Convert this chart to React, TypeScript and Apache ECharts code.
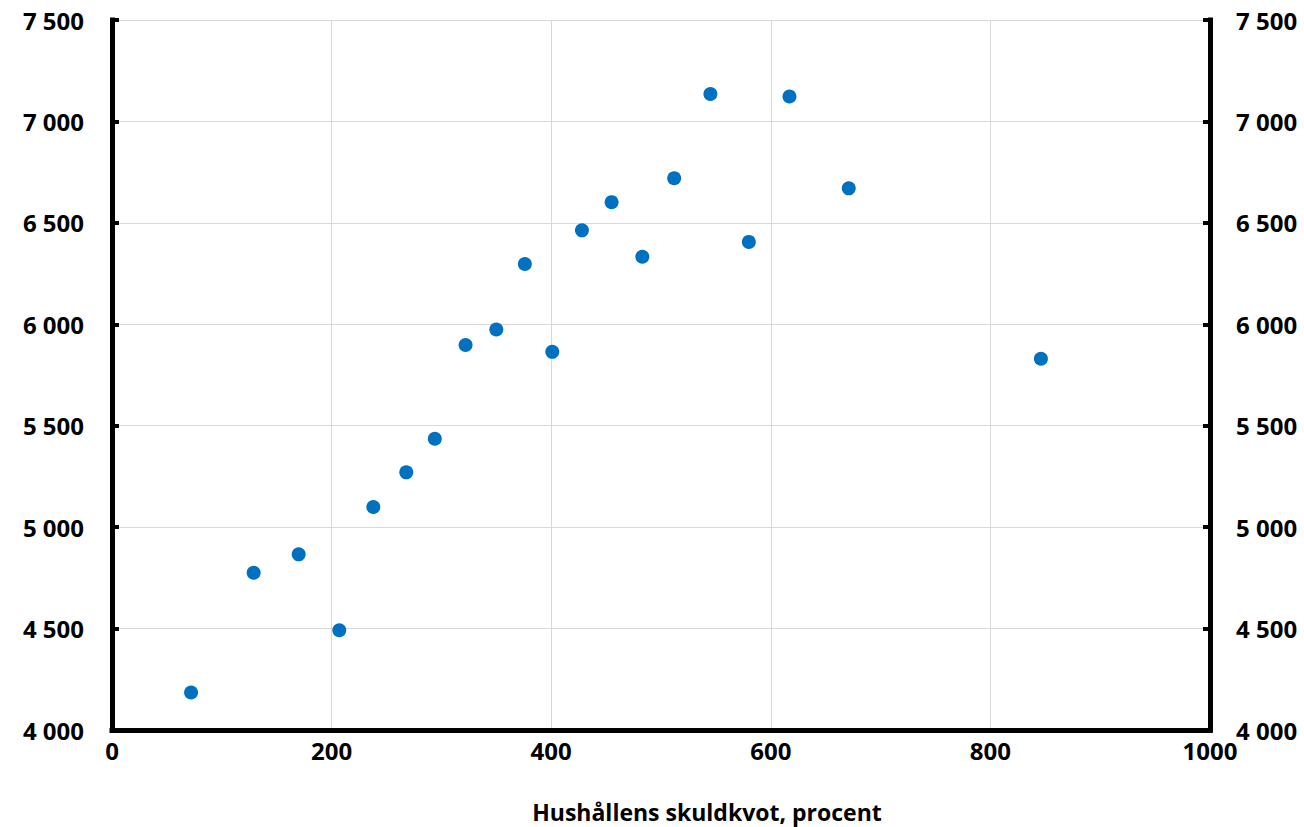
import React, { useEffect, useRef } from "react";
import * as echarts from "echarts";

const debtRatio = [72, 129, 170, 207, 238, 268, 294, 322, 350, 376, 401, 428, 455, 483, 512, 545, 580, 617, 671, 846];
const value = [4185, 4775, 4866, 4492, 5099, 5270, 5436, 5898, 5974, 6297, 5864, 6463, 6602, 6333, 6720, 7135, 6406, 7123, 6670, 5830];
const xTicks = [0, 200, 400, 600, 800, 1000];
const yTicks = [4000, 4500, 5000, 5500, 6000, 6500, 7000, 7500];
const xTitle = "Hushållens skuldkvot, procent";

const FONT = "'Open Sans', 'Noto Sans', sans-serif";

const fmt = (v: number) => {
  const s = String(Math.round(v));
  return s.length > 3 ? s.slice(0, s.length - 3) + " " + s.slice(-3) : s;
};

export default function App() {
  const ref = useRef<HTMLDivElement>(null);
  useEffect(() => {
    document.body.style.margin = "0";
    if (!ref.current) return;
    const chart = echarts.init(ref.current, undefined, { renderer: "svg" });
    const axisLine = { show: true, lineStyle: { color: "#000", width: 5, cap: "square" } };
    const yCommon = {
      type: "value",
      min: yTicks[0],
      max: yTicks[yTicks.length - 1],
      interval: 500,
      axisLine,
      axisTick: { show: true, inside: true, length: 7, lineStyle: { color: "#000", width: 4 } },
      axisLabel: {
        formatter: (v: number) => fmt(v),
        color: "#000",
        fontFamily: FONT,
        fontWeight: "bold",
        fontSize: 24,
      },
    };
    chart.setOption({
      animation: false,
      backgroundColor: "#fff",
      grid: { left: 112, right: 94, top: 20, bottom: 97, containLabel: false },
      xAxis: {
        type: "value",
        min: xTicks[0],
        max: xTicks[xTicks.length - 1],
        interval: 200,
        axisLine: { ...axisLine, onZero: false },
        axisTick: { show: false },
        splitLine: { show: true, lineStyle: { color: "#d9d9d9", width: 1 } },
        axisLabel: {
          formatter: (v: number) => String(v),
          color: "#000",
          fontFamily: FONT,
          fontWeight: "bold",
          fontSize: 24,
          margin: 8,
        },
      },
      yAxis: [
        {
          ...yCommon,
          position: "left",
          splitLine: { show: true, lineStyle: { color: "#d9d9d9", width: 1 } },
          axisLabel: { ...yCommon.axisLabel, margin: 28 },
        },
        {
          ...yCommon,
          position: "right",
          splitLine: { show: false },
          axisLabel: { ...yCommon.axisLabel, margin: 26 },
        },
      ],
      graphic: [
        {
          type: "text",
          x: 707,
          y: 812,
          style: {
            text: xTitle,
            fill: "#000",
            font: `bold 23px ${FONT}`,
            textAlign: "center",
            textVerticalAlign: "middle",
          },
        },
      ],
      series: [
        {
          type: "scatter",
          yAxisIndex: 0,
          symbol: "circle",
          symbolSize: 14,
          itemStyle: { color: "#0070c0", opacity: 1 },
          data: debtRatio.map((x, i) => [x, value[i]]),
        },
      ],
    });
    return () => chart.dispose();
  }, []);
  return <div ref={ref} style={{ width: 1304, height: 827 }} />;
}
